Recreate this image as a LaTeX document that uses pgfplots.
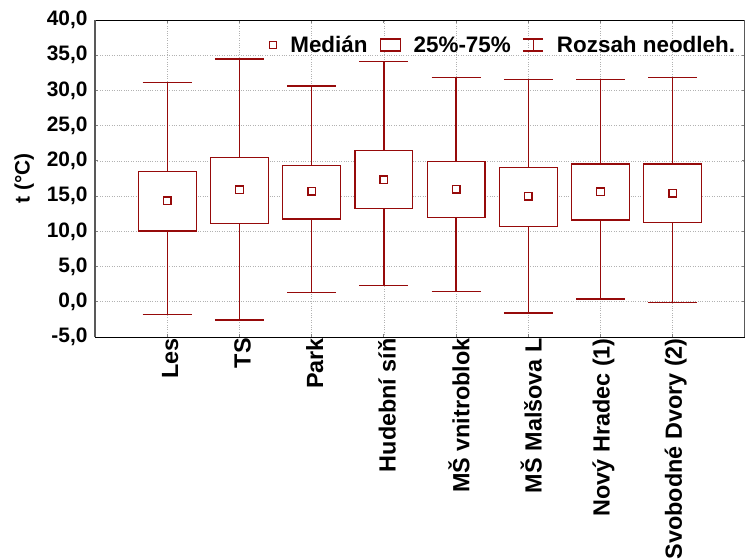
\documentclass[border=0pt]{standalone}
\usepackage{pgfplots}
\pgfplotsset{compat=1.18}
\usepgfplotslibrary{statistics}
\usepackage{fontspec}
\setmainfont{Liberation Sans}
\definecolor{dr}{RGB}{150,10,10}
\newcommand{\bigbf}{\bfseries\fontsize{21}{24}\selectfont}
\newcommand{\legbf}{\bfseries\fontsize{22.5}{26}\selectfont}
\newcommand{\xbf}{\bfseries\fontsize{23.5}{27}\selectfont}
\begin{document}
\begin{tikzpicture}
\begin{axis}[
  set layers,
  at={(0,0)}, anchor=south west,
  scale only axis, width=650bp, height=317bp,
  xmin=0, xmax=9, ymin=-5, ymax=40,
  xtick={1,...,8},
  xticklabels={Les,TS,Park,Hudební síň,MŠ vnitroblok,MŠ Malšova L,Nový Hradec (1),Svobodné Dvory (2)},
  ytick={-5,0,...,40},
  /pgf/number format/assume math mode=true,
  yticklabel style={font=\bigbf, xshift=-4bp, /pgf/number format/.cd, fixed, fixed zerofill, precision=1, use comma},
  xticklabel style={font=\xbf, rotate=90, anchor=east, inner sep=1bp, yshift=-3bp},
  ylabel={t (°C)},
  ylabel style={font=\bigbf, at={(axis description cs:-0.109,0.5)}, anchor=center},
  grid=major, grid style={dotted, gray!60, line width=0.7bp},
  tick style={gray, line width=0.8bp}, major tick length=3bp,
  separate axis lines,
  x axis line style={black, line width=0.9bp},
  y axis line style={gray!70!black, line width=1.8bp},
  boxplot/draw direction=y,
  boxplot/every box/.style={draw=dr, fill=white, line width=1.2bp},
  boxplot/every whisker/.style={draw=dr, line width=1.3bp},
  legend style={draw=none, fill=none, legend columns=-1, font=\legbf,
    at={(rel axis cs:0.985,0.921)}, anchor=east, inner sep=0pt,
    /tikz/every odd column/.append style={column sep=13bp},
    /tikz/every even column/.append style={column sep=12bp},
    nodes={inner sep=0pt}},
  legend cell align=left,
]
% boxes and whiskers
\pgfplotsset{boxplot/draw/median/.code={}}
\addplot[dr, forget plot, boxplot prepared={draw position=1, lower whisker=-1.8, lower quartile=10.05, median=14.35, upper quartile=18.5, upper whisker=31.15, box extend=0.8, whisker extend=0.68}] coordinates {};
\addplot[dr, forget plot, boxplot prepared={draw position=2, lower whisker=-2.6, lower quartile=11.1, median=15.9, upper quartile=20.5, upper whisker=34.45, box extend=0.8, whisker extend=0.68}] coordinates {};
\addplot[dr, forget plot, boxplot prepared={draw position=3, lower whisker=1.35, lower quartile=11.75, median=15.7, upper quartile=19.4, upper whisker=30.65, box extend=0.8, whisker extend=0.68}] coordinates {};
\addplot[dr, forget plot, boxplot prepared={draw position=4, lower whisker=2.3, lower quartile=13.2, median=17.3, upper quartile=21.5, upper whisker=34.15, box extend=0.8, whisker extend=0.68}] coordinates {};
\addplot[dr, forget plot, boxplot prepared={draw position=5, lower whisker=1.45, lower quartile=11.95, median=16.0, upper quartile=19.9, upper whisker=31.85, box extend=0.8, whisker extend=0.68}] coordinates {};
\addplot[dr, forget plot, boxplot prepared={draw position=6, lower whisker=-1.6, lower quartile=10.7, median=15.0, upper quartile=19.1, upper whisker=31.6, box extend=0.8, whisker extend=0.68}] coordinates {};
\addplot[dr, forget plot, boxplot prepared={draw position=7, lower whisker=0.4, lower quartile=11.6, median=15.6, upper quartile=19.55, upper whisker=31.6, box extend=0.8, whisker extend=0.68}] coordinates {};
\addplot[dr, forget plot, boxplot prepared={draw position=8, lower whisker=-0.1, lower quartile=11.3, median=15.4, upper quartile=19.55, upper whisker=31.85, box extend=0.8, whisker extend=0.68}] coordinates {};
% medians
\addplot[only marks, mark=square, mark size=3.8bp, mark options={draw=dr, fill=none, line width=1.4bp},
  legend image code/.code={\node[draw=dr, line width=1.3bp, minimum size=7.2bp, inner sep=0pt] at (10bp,0bp) {};}]
  coordinates {(1,14.35) (2,15.9) (3,15.7) (4,17.3) (5,16.0) (6,15.0) (7,15.6) (8,15.4)};
\addlegendentry{Medián}
\addlegendimage{legend image code/.code={\draw[dr, line width=1.1bp, fill=white] (0bp,-6bp) rectangle (20bp,6bp);}}
\addlegendentry{25\%-75\%}
\addlegendimage{legend image code/.code={\draw[dr, line width=1.1bp] (0bp,-6bp) -- (20bp,-6bp) (10bp,-6bp) -- (10bp,6bp) (0bp,6bp) -- (20bp,6bp);}}
\addlegendentry{Rozsah neodleh.}
\end{axis}
\pgfresetboundingbox
\path[use as bounding box] (-95bp,-222bp) rectangle (650bp,337bp);
\end{tikzpicture}
\end{document}
